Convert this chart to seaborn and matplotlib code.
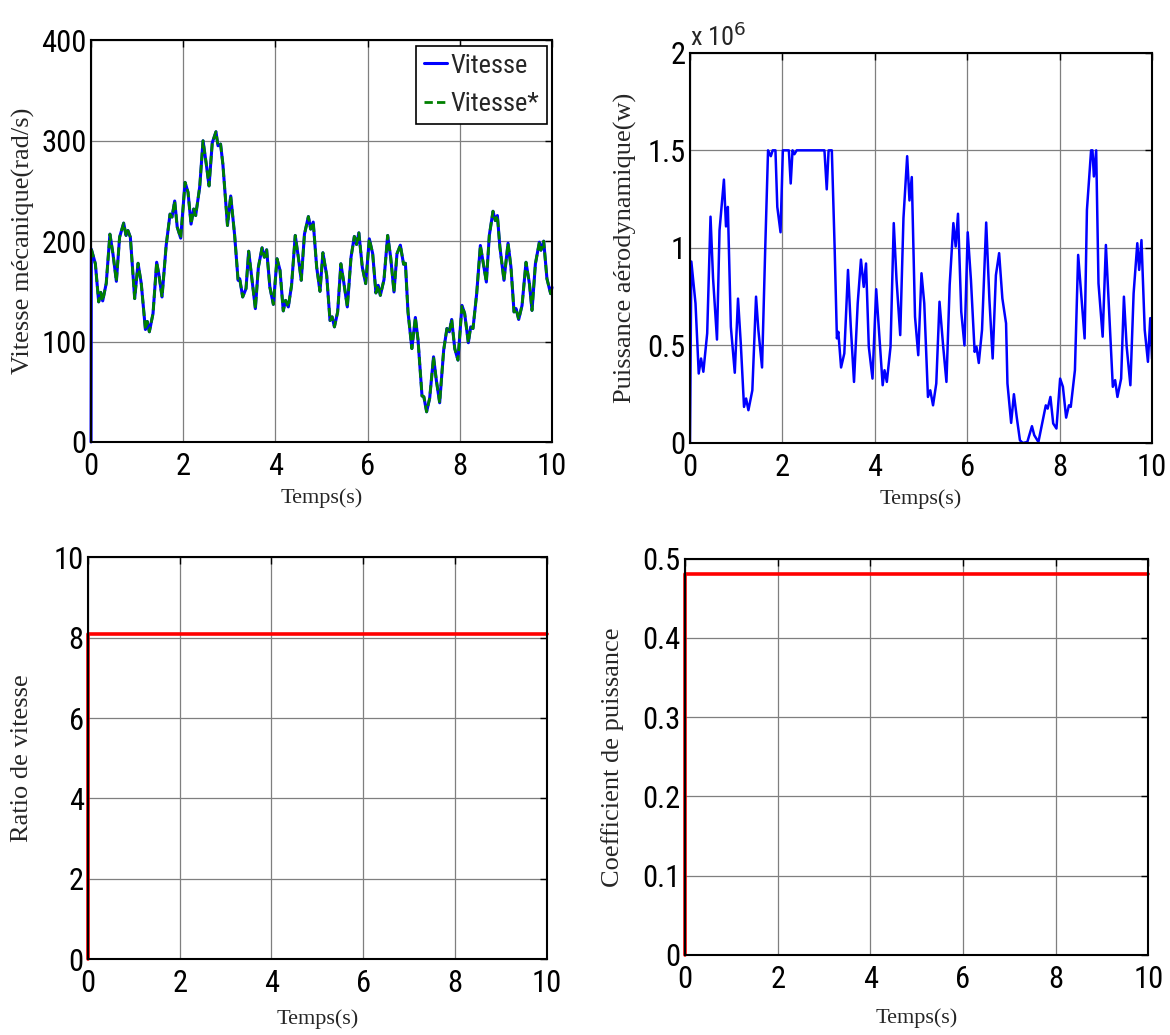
import matplotlib
matplotlib.use("Agg")
import matplotlib.pyplot as plt
import seaborn as sns
from matplotlib.ticker import FuncFormatter

# vitesse mecanique (rad/s)
t_vitesse = [0.007, 0.094, 0.166, 0.21, 0.253, 0.33, 0.41, 0.477, 0.55, 0.62,
             0.708, 0.76, 0.80, 0.853, 0.947, 1.02, 1.09, 1.18, 1.22, 1.265,
             1.345, 1.424, 1.475, 1.54, 1.63, 1.714, 1.757, 1.815, 1.87, 1.945,
             2.04, 2.104, 2.17, 2.227, 2.27, 2.357, 2.43, 2.5, 2.56, 2.63,
             2.71, 2.755, 2.81, 2.86, 2.96, 3.03, 3.116, 3.19, 3.225, 3.29,
             3.362, 3.42, 3.485, 3.565, 3.63, 3.71, 3.76, 3.81, 3.88, 3.955,
             4.035, 4.1, 4.17, 4.22, 4.28, 4.35, 4.43, 4.497, 4.56, 4.63,
             4.715, 4.765, 4.82, 4.895, 4.967, 5.03, 5.112, 5.184, 5.23, 5.28,
             5.35, 5.42, 5.487, 5.56, 5.64, 5.712, 5.76, 5.81, 5.885, 5.958,
             6.037, 6.11, 6.18, 6.23, 6.276, 6.355, 6.435, 6.5, 6.572, 6.637,
             6.71, 6.78, 6.82, 6.876, 6.96, 7.036, 7.094, 7.18, 7.22, 7.28,
             7.346, 7.43, 7.49, 7.563, 7.65, 7.72, 7.773, 7.824, 7.89, 7.96,
             8.047, 8.105, 8.185, 8.236, 8.286, 8.366, 8.446, 8.51, 8.576, 8.64,
             8.72, 8.77, 8.815, 8.87, 8.958, 9.046, 9.11, 9.176, 9.22, 9.277,
             9.35, 9.436, 9.51, 9.566, 9.64, 9.726, 9.76, 9.82, 9.89, 9.97,
             10.0]
vitesse = [192, 177.5, 139.5, 149, 140.5, 158, 207, 187, 160, 204,
           218, 205.7, 210.6, 204, 142.8, 178, 157.7, 112, 120, 109.7,
           128, 179, 166, 144.4, 195.7, 227, 224, 240, 214, 203,
           258.6, 248.7, 217, 232, 225.5, 253.7, 300, 276.8, 255, 298,
           309, 295, 296.7, 276.8, 215.6, 245, 205.7, 161, 162.6, 144.4,
           152.7, 190, 164, 132.8, 174, 193.4, 184, 191.4, 154, 137,
           182.5, 171, 130.5, 141, 134.5, 156, 205.7, 184, 161, 207,
           224.5, 212, 219, 174, 150, 188.5, 166, 121, 124.6, 114.6,
           129.5, 177.5, 157.7, 134.5, 184, 204.7, 196.7, 208.3, 174, 157.7,
           202.3, 187.5, 148.4, 156, 146, 161.6, 205.7, 184, 149.4, 187.5,
           196, 177, 178, 129.5, 93, 124, 101.4, 45.8, 45, 30,
           43.5, 84.8, 61.7, 39, 91.5, 113, 109.7, 122, 93, 81.5,
           136, 128, 98.8, 114.6, 113, 147.7, 195.7, 177.5, 159.3, 205.7,
           229.8, 220.5, 225.5, 194, 161, 198, 174, 129.5, 132.8, 122,
           136, 179, 157.7, 131, 177.5, 199, 191, 200, 162.6, 147.7,
           154]

# puissance aerodynamique (x 1e6 W)
t_puissance = [0.0, 0.03, 0.12, 0.19, 0.24, 0.29, 0.373, 0.445, 0.50, 0.585,
               0.64, 0.735, 0.78, 0.82, 0.885, 0.97, 1.04, 1.1, 1.17, 1.215,
               1.265, 1.35, 1.43, 1.48, 1.56, 1.63, 1.69, 1.75, 1.79, 1.85,
               1.89, 1.96, 2.01, 2.14, 2.18, 2.22, 2.26, 2.31, 2.91, 2.96,
               3.0, 3.07, 3.13, 3.18, 3.21, 3.27, 3.34, 3.42, 3.48, 3.55,
               3.63, 3.7, 3.76, 3.81, 3.87, 3.95, 4.03, 4.09, 4.17, 4.21,
               4.26, 4.34, 4.41, 4.47, 4.55, 4.62, 4.70, 4.75, 4.8, 4.87,
               4.94, 5.01, 5.07, 5.15, 5.2, 5.26, 5.33, 5.4, 5.48, 5.55,
               5.62, 5.7, 5.75, 5.8, 5.87, 5.94, 6.01, 6.08, 6.16, 6.2,
               6.25, 6.32, 6.41, 6.48, 6.55, 6.62, 6.69, 6.76, 6.84, 6.87,
               6.95, 7.01, 7.07, 7.14, 7.2, 7.3, 7.4, 7.45, 7.54, 7.62,
               7.7, 7.74, 7.8, 7.86, 7.93, 8.01, 8.07, 8.14, 8.2, 8.24,
               8.33, 8.4, 8.47, 8.54, 8.59, 8.68, 8.71, 8.74, 8.79, 8.84,
               8.93, 9.0, 9.07, 9.15, 9.2, 9.25, 9.33, 9.39, 9.45, 9.53,
               9.6, 9.68, 9.72, 9.77, 9.84, 9.91, 9.96, 10.0]
puissance = [0, 0.93, 0.716, 0.356, 0.433, 0.365, 0.562, 1.16, 0.844, 0.53,
             1.09, 1.35, 1.11, 1.21, 0.596, 0.36, 0.74, 0.51, 0.185, 0.228,
             0.168, 0.27, 0.75, 0.58, 0.387, 1.007, 1.5, 1.47, 1.5, 1.5,
             1.21, 1.08, 1.5, 1.5, 1.33, 1.5, 1.48, 1.5, 1.5, 1.3,
             1.5, 1.5, 1.007, 0.536, 0.57, 0.387, 0.459, 0.887, 0.596, 0.313,
             0.716, 0.94, 0.80, 0.92, 0.493, 0.33, 0.788, 0.58, 0.296, 0.373,
             0.313, 0.493, 1.127, 0.836, 0.553, 1.153, 1.47, 1.243, 1.363, 0.647,
             0.45, 0.87, 0.716, 0.236, 0.27, 0.193, 0.305, 0.724, 0.493, 0.313,
             0.81, 1.127, 1.007, 1.175, 0.673, 0.5, 1.08, 0.836, 0.467, 0.493,
             0.41, 0.58, 1.13, 0.733, 0.433, 0.86, 0.973, 0.741, 0.613, 0.305,
             0.103, 0.25, 0.134, 0.014, 0.0, 0.005, 0.086, 0.04, 0.005, 0.1,
             0.193, 0.176, 0.236, 0.1, 0.074, 0.33, 0.288, 0.13, 0.193, 0.185,
             0.373, 0.964, 0.75, 0.536, 1.195, 1.5, 1.5, 1.366, 1.5, 0.818,
             0.545, 1.015, 0.68, 0.288, 0.322, 0.236, 0.33, 0.75, 0.493, 0.296,
             0.767, 1.024, 0.887, 1.04, 0.58, 0.416, 0.64, 0.43]

# ratio de vitesse and coefficient de puissance (constant after start)
t_const = [0, 0, 10]
ratio = [0, 8.1, 8.1]
cp = [0, 0.48, 0.48]

sns.set_style("white")
plt.rcParams["font.family"] = ["Roboto Condensed", "Archivo Narrow",
                               "Liberation Sans", "DejaVu Sans"]
serif = ["Liberation Serif", "DejaVu Serif"]

fig = plt.figure(figsize=(11.7, 10.35), dpi=100)
ax1 = fig.add_axes([0.0778, 0.573, 0.394, 0.388])
ax2 = fig.add_axes([0.5897, 0.572, 0.395, 0.377])
ax3 = fig.add_axes([0.0752, 0.0734, 0.392, 0.388])
ax4 = fig.add_axes([0.5855, 0.0773, 0.396, 0.383])

# speed: measured starts from 0, reference starts directly on the curve
sns.lineplot(x=[0] + t_vitesse, y=[0] + vitesse, ax=ax1, color="#0000ff",
             lw=2.2, estimator=None, sort=False, label="Vitesse")
sns.lineplot(x=t_vitesse, y=vitesse, ax=ax1, color="#008000", lw=2.0,
             estimator=None, sort=False, label="Vitesse*", linestyle="--")
ax1.lines[1].set_dashes([3, 1.5])

sns.lineplot(x=t_puissance, y=puissance, ax=ax2, color="#0000ff", lw=1.8,
             estimator=None, sort=False)
sns.lineplot(x=t_const, y=ratio, ax=ax3, color="#ff0000", lw=2.6,
             estimator=None, sort=False)
sns.lineplot(x=t_const, y=cp, ax=ax4, color="#ff0000", lw=2.6,
             estimator=None, sort=False)
for a in (ax3, ax4):
    a.lines[0].set_clip_on(False)
ax1.lines[0].set_clip_on(False)

ax1.set_ylim(0, 400)
ax1.set_yticks([0, 100, 200, 300, 400])
ax2.set_ylim(0, 2)
ax2.set_yticks([0, 0.5, 1, 1.5, 2])
ax3.set_ylim(0, 10)
ax3.set_yticks([0, 2, 4, 6, 8, 10])
ax4.set_ylim(0, 0.5)
ax4.set_yticks([0, 0.1, 0.2, 0.3, 0.4, 0.5])

fmt = FuncFormatter(lambda v, p: "%g" % v)
for a in (ax1, ax2, ax3, ax4):
    a.set_xlim(0, 10)
    a.set_xticks([0, 2, 4, 6, 8, 10])
    a.xaxis.set_major_formatter(fmt)
    a.yaxis.set_major_formatter(fmt)
    a.grid(True, color="#7f7f7f", lw=0.9)
    a.tick_params(direction="in", top=True, right=True, length=5, width=1,
                  labelsize=22, pad=3, colors="black")
    a.tick_params(axis="x", pad=7)
    for s in a.spines.values():
        s.set_color("black")
        s.set_linewidth(1.5)
    a.set_xlabel("Temps(s)", family=serif, fontsize=16)

ax2.text(0.0, 1.005, r"x 10$^{6}$", transform=ax2.transAxes, fontsize=19,
         ha="left", va="bottom")

ax1.set_ylabel("Vitesse mécanique(rad/s)", family=serif, fontsize=19)
ax2.set_ylabel("Puissance aérodynamique(w)", family=serif, fontsize=19)
ax3.set_ylabel("Ratio de vitesse", family=serif, fontsize=19)
ax4.set_ylabel("Coefficient de puissance", family=serif, fontsize=19)

ax1.yaxis.set_label_coords(-0.121, 0.5)
ax2.yaxis.set_label_coords(-0.115, 0.5)
ax3.yaxis.set_label_coords(-0.12, 0.5)
ax4.yaxis.set_label_coords(-0.132, 0.5)
ax1.xaxis.set_label_coords(0.5, -0.115)
ax2.xaxis.set_label_coords(0.5, -0.118)
ax3.xaxis.set_label_coords(0.5, -0.125)
ax4.xaxis.set_label_coords(0.5, -0.135)

leg = ax1.legend(loc="upper right", fontsize=19, frameon=True, fancybox=False,
                 edgecolor="black", framealpha=1, handlelength=0.9,
                 handletextpad=0.1, borderaxespad=0.2, borderpad=0.3,
                 labelspacing=0.55)
leg.get_frame().set_linewidth(1.2)

fig.savefig("out.png", dpi=100)
